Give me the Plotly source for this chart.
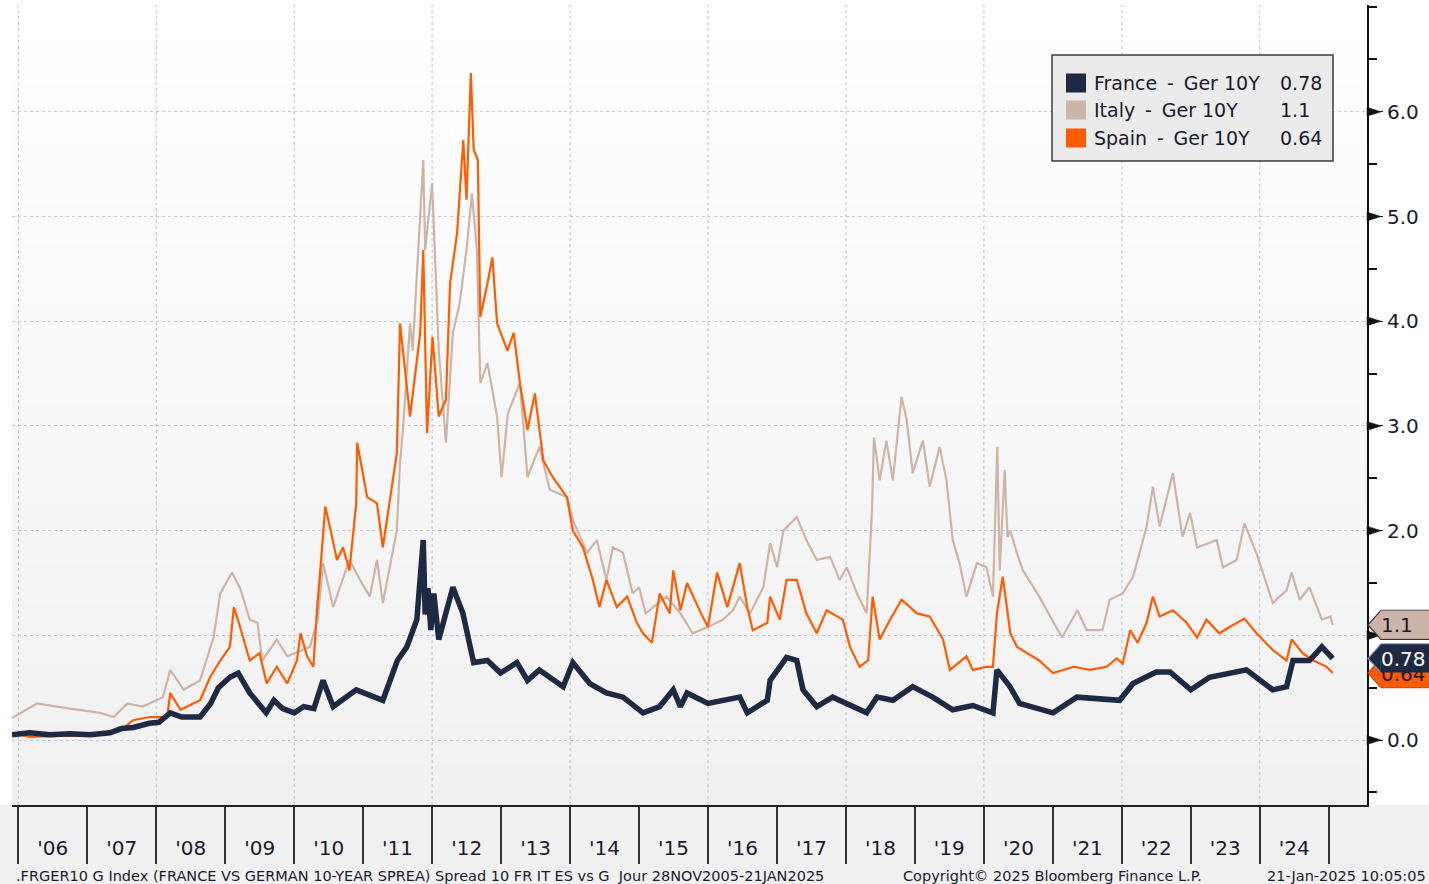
import plotly.graph_objects as go

# ---------------- data ----------------
france_dates = ["2005-11-28","2006-03-01","2006-06-15","2006-10-01","2007-01-15","2007-05-01","2007-07-01","2007-09-01",
    "2007-11-25","2008-01-15","2008-03-15","2008-05-15","2008-08-20","2008-10-15","2008-11-25","2009-01-25","2009-03-10",
    "2009-05-10","2009-08-05","2009-09-15","2009-11-01","2010-01-01","2010-02-20","2010-04-15","2010-06-02","2010-07-26",
    "2010-11-25","2011-04-15","2011-07-01","2011-08-20","2011-10-12","2011-11-15","2011-11-25","2011-12-10","2011-12-25",
    "2012-01-10","2012-02-05","2012-04-20","2012-06-12","2012-08-08","2012-10-20","2012-12-28","2013-03-25","2013-05-20",
    "2013-07-22","2013-11-25","2014-01-15","2014-04-15","2014-07-12","2014-10-08","2015-01-22","2015-04-20","2015-07-01",
    "2015-08-08","2015-09-12","2016-01-01","2016-06-17","2016-07-27","2016-11-10","2016-11-25","2017-02-20","2017-04-15",
    "2017-05-18","2017-07-30","2017-10-22","2018-04-20","2018-06-14","2018-09-06","2018-12-20","2019-04-05","2019-07-20",
    "2019-11-03","2020-02-18","2020-03-10","2020-05-18","2020-07-08","2021-01-01","2021-05-08","2021-12-20","2022-03-01",
    "2022-07-01","2022-09-13","2023-01-01","2023-04-10","2023-10-22","2024-03-10","2024-05-22","2024-06-25","2024-09-20",
    "2024-11-25","2025-01-21"]
france_vals = [0.05,0.07,0.05,0.06,0.05,0.07,0.11,0.12,
    0.16,0.17,0.26,0.22,0.22,0.35,0.50,0.60,0.64,
    0.45,0.26,0.38,0.30,0.26,0.32,0.30,0.57,0.32,
    0.48,0.38,0.76,0.89,1.15,1.91,1.20,1.45,1.05,
    1.40,0.96,1.46,1.21,0.74,0.76,0.64,0.74,0.57,
    0.67,0.51,0.74,0.54,0.45,0.41,0.26,0.32,0.48,
    0.32,0.45,0.35,0.41,0.26,0.38,0.57,0.79,0.76,
    0.48,0.32,0.41,0.26,0.41,0.38,0.51,0.41,0.29,
    0.33,0.26,0.67,0.51,0.35,0.26,0.41,0.38,0.54,
    0.65,0.65,0.48,0.60,0.67,0.48,0.51,0.76,0.76,
    0.89,0.78]

italy_dates = ["2005-11-28","2006-04-10","2006-10-01","2007-03-10","2007-05-20","2007-08-01","2007-10-22","2008-02-05",
    "2008-03-15","2008-05-25","2008-08-20","2008-10-30","2008-12-05","2009-02-05","2009-03-20","2009-05-10","2009-06-20",
    "2009-07-15","2009-09-30","2009-11-25","2010-01-01","2010-03-25","2010-05-05","2010-06-02","2010-07-26","2010-10-20",
    "2010-12-15","2011-02-05","2011-03-15","2011-04-15","2011-06-28","2011-07-15","2011-07-30","2011-09-06","2011-09-20",
    "2011-11-15","2011-11-25","2012-01-01","2012-01-22","2012-02-05","2012-03-14","2012-04-20","2012-05-26","2012-07-01",
    "2012-07-30","2012-08-25","2012-09-12","2012-10-20","2012-12-10","2013-01-03","2013-02-05","2013-04-10","2013-05-20",
    "2013-07-22","2013-09-15","2013-12-15","2014-01-15","2014-04-01","2014-05-22","2014-07-12","2014-08-15","2014-10-08",
    "2014-11-28","2015-01-01","2015-02-05","2015-05-26","2015-08-08","2015-10-12","2016-01-01","2016-03-20","2016-05-12",
    "2016-06-17","2016-08-10","2016-10-20","2016-11-25","2017-01-01","2017-02-03","2017-04-15","2017-06-05","2017-07-30",
    "2017-10-08","2017-11-28","2018-01-05","2018-02-28","2018-04-20","2018-05-18","2018-05-29","2018-06-28","2018-08-03",
    "2018-09-06","2018-10-22","2018-11-18","2018-12-20","2019-02-12","2019-03-20","2019-05-12","2019-06-17","2019-07-20",
    "2019-08-25","2019-10-01","2019-11-25","2020-01-15","2020-02-18","2020-03-12","2020-03-25","2020-04-20","2020-05-05",
    "2020-05-20","2020-06-25","2020-07-26","2020-10-20","2021-01-15","2021-02-18","2021-05-10","2021-06-28","2021-09-20",
    "2021-10-28","2022-01-05","2022-03-01","2022-05-12","2022-06-14","2022-07-20","2022-09-28","2022-11-18","2022-12-28",
    "2023-02-03","2023-05-18","2023-06-20","2023-09-01","2023-10-12","2023-12-15","2024-03-10","2024-05-22","2024-06-18",
    "2024-07-30","2024-09-20","2024-11-25","2025-01-10","2025-01-21"]
italy_vals = [0.21,0.35,0.30,0.26,0.22,0.35,0.32,0.41,
    0.67,0.48,0.57,0.98,1.40,1.60,1.45,1.15,1.12,
    0.76,0.96,0.80,0.83,0.89,1.15,1.69,1.27,1.72,
    1.53,1.37,1.72,1.31,2.00,2.65,2.96,3.98,3.72,
    5.54,4.68,5.32,4.36,3.72,2.84,3.89,4.17,4.68,
    5.22,4.68,3.41,3.60,3.09,2.51,3.12,3.41,2.51,
    2.80,2.39,2.32,2.10,1.79,1.91,1.53,1.84,1.79,
    1.40,1.46,1.21,1.37,1.21,1.02,1.08,1.15,1.24,
    1.37,1.21,1.46,1.88,1.65,2.00,2.13,1.91,1.72,
    1.75,1.53,1.65,1.40,1.21,2.17,2.89,2.48,2.86,
    2.48,3.28,3.06,2.55,2.86,2.42,2.80,2.48,1.91,
    1.69,1.37,1.69,1.65,1.37,2.80,1.62,2.58,1.94,
    2.00,1.78,1.62,1.37,1.08,0.98,1.24,1.05,1.05,
    1.34,1.40,1.56,2.04,2.42,2.04,2.55,1.94,2.17,
    1.84,1.91,1.65,1.72,2.07,1.78,1.31,1.43,1.60,
    1.34,1.46,1.15,1.18,1.10]

spain_dates = ["2005-11-28","2006-03-01","2006-08-01","2007-01-15","2007-07-01","2007-09-01","2007-11-28","2008-02-28",
    "2008-03-15","2008-05-08","2008-08-20","2008-10-12","2008-12-05","2009-01-25","2009-02-15","2009-03-20","2009-05-10",
    "2009-07-01","2009-08-08","2009-09-30","2009-11-25","2010-01-15","2010-02-03","2010-03-10","2010-04-12","2010-05-01",
    "2010-05-20","2010-06-14","2010-07-08","2010-08-15","2010-09-16","2010-10-20","2010-11-25","2010-11-30","2011-01-22",
    "2011-03-15","2011-04-15","2011-05-22","2011-06-28","2011-07-15","2011-09-06","2011-10-30","2011-11-15","2011-12-05",
    "2012-01-03","2012-02-05","2012-03-14","2012-04-05","2012-05-12","2012-06-14","2012-07-01","2012-07-24","2012-08-08",
    "2012-08-30","2012-09-12","2012-10-20","2012-11-15","2012-12-10","2013-02-03","2013-03-08","2013-04-10","2013-05-20",
    "2013-06-28","2013-08-12","2013-10-01","2013-12-15","2014-01-15","2014-03-10","2014-05-01","2014-06-05","2014-07-12",
    "2014-09-05","2014-10-30","2014-12-20","2015-01-22","2015-03-10","2015-04-20","2015-06-12","2015-07-01","2015-08-08",
    "2015-09-12","2015-11-25","2016-01-01","2016-02-18","2016-04-12","2016-06-17","2016-07-27","2016-08-25","2016-11-10",
    "2016-11-25","2017-01-15","2017-02-20","2017-04-15","2017-06-05","2017-07-30","2017-09-20","2017-12-15","2018-01-22",
    "2018-03-14","2018-04-28","2018-05-22","2018-06-28","2018-08-22","2018-10-22","2019-01-12","2019-03-20","2019-05-30",
    "2019-07-05","2019-10-01","2019-11-03","2020-01-15","2020-02-18","2020-03-10","2020-04-10","2020-05-20","2020-06-25",
    "2020-10-20","2021-01-01","2021-04-20","2021-07-15","2021-10-12","2021-12-05","2022-01-05","2022-02-14","2022-03-25",
    "2022-05-12","2022-06-14","2022-07-20","2022-09-28","2022-12-10","2023-02-03","2023-03-25","2023-06-01","2023-07-25",
    "2023-10-12","2023-12-15","2024-03-10","2024-05-22","2024-06-18","2024-08-15","2024-10-12","2024-12-20","2025-01-21"]
spain_vals = [0.07,0.03,0.04,0.04,0.10,0.19,0.22,0.22,
    0.45,0.29,0.38,0.60,0.76,0.89,1.27,1.08,0.76,
    0.83,0.54,0.70,0.54,0.76,1.02,0.80,0.70,1.24,
    1.65,2.23,2.04,1.72,1.84,1.62,2.26,2.84,2.32,
    2.26,1.84,2.29,2.74,3.98,3.09,3.89,4.68,2.93,
    3.85,3.09,3.25,4.36,4.84,5.73,5.16,6.37,5.64,
    5.54,4.04,4.36,4.61,3.98,3.72,3.89,3.41,2.96,
    3.31,2.67,2.51,2.32,2.00,1.84,1.53,1.27,1.53,
    1.27,1.37,1.12,1.02,0.93,1.40,1.21,1.62,1.24,
    1.50,1.21,1.08,1.60,1.27,1.69,1.27,1.05,1.12,
    1.37,1.15,1.53,1.53,1.21,1.02,1.24,1.15,0.89,
    0.70,0.76,1.37,0.96,1.15,1.34,1.21,1.18,0.96,
    0.67,0.80,0.67,0.70,0.70,1.21,1.56,1.02,0.89,
    0.76,0.64,0.70,0.67,0.70,0.78,0.73,1.05,0.93,
    1.12,1.37,1.18,1.24,1.12,0.98,1.15,1.02,1.08,
    1.16,1.02,0.86,0.76,0.96,0.83,0.76,0.70,0.64]

series_names = ["France - Ger 10Y", "Italy - Ger 10Y", "Spain - Ger 10Y"]
year_labels = ["'06","'07","'08","'09","'10","'11","'12","'13","'14","'15","'16","'17","'18","'19","'20","'21","'22","'23","'24"]
years = list(range(2006, 2025))
grid_years = list(range(2006, 2025, 2))
y_ticks = [0, 1, 2, 3, 4, 5, 6]
y_ticktext = ["0.0", "", "2.0", "3.0", "4.0", "5.0", "6.0"]   # 1.0 is hidden behind the 1.1 tag
footer_left = ".FRGER10 G Index (FRANCE VS GERMAN 10-YEAR SPREA) Spread 10 FR IT ES vs G  Jour 28NOV2005-21JAN2025"
footer_mid = "Copyright\u00a9 2025 Bloomberg Finance L.P."
footer_right = "21-Jan-2025 10:05:05"

# ---------------- style ----------------
C_FR = "#1e2944"
C_IT = "#cdb4a9"
C_ES = "#ff5b00"
FONT = "DejaVu Sans"
TXT = "#1a1a2e"

W, H = 1429, 884
L, R, T, B = 12, 62, 5, 79
PW, PH = W - L - R, H - T - B
Y0, Y1 = -0.62, 7.02
UPP = (Y1 - Y0) / PH   # data units per pixel

def px_x(px):
    return (px - L) / PW

def px_y(py):
    return (H - B - py) / PH

fig = go.Figure()
fig.add_trace(go.Scatter(x=italy_dates, y=italy_vals, mode="lines", name=series_names[1],
                         line=dict(color=C_IT, width=2.2), showlegend=False))
fig.add_trace(go.Scatter(x=spain_dates, y=spain_vals, mode="lines", name=series_names[2],
                         line=dict(color=C_ES, width=2.2), showlegend=False))
fig.add_trace(go.Scatter(x=france_dates, y=france_vals, mode="lines", name=series_names[0],
                         line=dict(color=C_FR, width=5.5), showlegend=False))

shapes = []
# bottom gray strip
shapes.append(dict(type="rect", xref="paper", yref="paper", x0=-0.02, x1=1.1, y0=-0.2, y1=0,
                   fillcolor="#f0f0f0", line=dict(width=0), layer="below"))
# vertical gradient in plot area
N = 40
for i in range(N):
    t = i / (N - 1)
    c = int(round(240 + (255 - 240) * t))
    shapes.append(dict(type="rect", xref="paper", yref="paper", x0=0, x1=1,
                       y0=i / N, y1=(i + 1) / N + 0.002,
                       fillcolor=f"rgb({c},{c},{c})", line=dict(width=0), layer="below"))
# vertical dotted grid every two years
for gy in grid_years:
    shapes.append(dict(type="line", xref="x", yref="paper", x0=f"{gy}-01-01", x1=f"{gy}-01-01", y0=0, y1=1,
                       line=dict(color="#c3c8d6", width=1.2, dash="3px,3px"), layer="below"))
# triangular major tick marks on the right axis
for v in y_ticks:
    path = f"M {px_x(1367)},{v + 4.5 * UPP} L {px_x(1381)},{v} L {px_x(1367)},{v - 4.5 * UPP} Z"
    shapes.append(dict(type="path", xref="paper", yref="y", path=path, fillcolor="#111111",
                       line=dict(color="#111111", width=0.5), layer="above"))

# legend box
shapes.append(dict(type="rect", xref="paper", yref="paper", x0=px_x(1052), x1=px_x(1333),
                   y0=px_y(161), y1=px_y(55), fillcolor="#ebebeb", line=dict(color="#3a3a3a", width=1.5)))
legend_rows = [83, 110, 138]
legend_colors = [C_FR, C_IT, C_ES]
last_vals = [france_vals[-1], italy_vals[-1], spain_vals[-1]]
annotations = []
for ry, col, name, v in zip(legend_rows, legend_colors, series_names, last_vals):
    shapes.append(dict(type="rect", xref="paper", yref="paper", x0=px_x(1066), x1=px_x(1086),
                       y0=px_y(ry + 9.5), y1=px_y(ry - 9.5), fillcolor=col, line=dict(width=0)))
    annotations.append(dict(xref="paper", yref="paper", x=px_x(1092), y=px_y(ry), xanchor="left",
                            yanchor="middle", text=name.replace(" - ", " \u2009-\u2009 "), showarrow=False,
                            font=dict(family=FONT, size=19, color=TXT)))
    annotations.append(dict(xref="paper", yref="paper", x=px_x(1278), y=px_y(ry), xanchor="left",
                            yanchor="middle", text=f"{v:g}", showarrow=False,
                            font=dict(family=FONT, size=19, color=TXT)))

# value tags at right (order: Spain, Italy, France on top)
tag_specs = [(spain_vals[-1], C_ES, "#b84000", TXT),
             (italy_vals[-1], C_IT, "#333333", TXT),
             (france_vals[-1], C_FR, "#8a93a8", "#ffffff")]
hh = 14.5 * UPP
for v, fill, border, tcol in tag_specs:
    xt, xs, xe = px_x(1368), px_x(1381), px_x(1440)
    path = f"M {xt},{v} L {xs},{v + hh} L {xe},{v + hh} L {xe},{v - hh} L {xs},{v - hh} Z"
    shapes.append(dict(type="path", xref="paper", yref="y", path=path, fillcolor=fill,
                       line=dict(color=border, width=1.2), layer="above"))
    annotations.append(dict(xref="paper", yref="y", x=px_x(1380), y=v, xanchor="left", yanchor="middle",
                            text=f"{v:g}", showarrow=False, width=52, height=27, align="left",
                            bgcolor=fill, borderpad=0, font=dict(family=FONT, size=20, color=tcol)))

# footer
FS = 14.5
annotations.append(dict(xref="paper", yref="paper", x=px_x(14), y=px_y(876), xanchor="left", yanchor="middle",
                        text=footer_left, showarrow=False, font=dict(family=FONT, size=FS, color=TXT)))
annotations.append(dict(xref="paper", yref="paper", x=px_x(901), y=px_y(876), xanchor="left", yanchor="middle",
                        text=footer_mid, showarrow=False, font=dict(family=FONT, size=FS, color=TXT)))
annotations.append(dict(xref="paper", yref="paper", x=px_x(1428), y=px_y(876), xanchor="right", yanchor="middle",
                        text=footer_right, showarrow=False, font=dict(family=FONT, size=FS, color=TXT)))

fig.update_layout(
    width=W, height=H,
    margin=dict(l=L, r=R, t=T, b=B, pad=0),
    paper_bgcolor="#ffffff", plot_bgcolor="#ffffff",
    showlegend=False,
    shapes=shapes, annotations=annotations,
    xaxis=dict(
        type="date", range=["2005-11-28", "2025-07-22"],
        tickmode="array", tickvals=[f"{y}-07-02" for y in years], ticktext=year_labels,
        ticks="outside", ticklen=24, tickcolor="rgba(0,0,0,0)",
        tickfont=dict(family=FONT, size=20, color=TXT),
        showgrid=False, zeroline=False,
        showline=True, linecolor="#222222", linewidth=2,
        minor=dict(tickmode="array", tickvals=[f"{y}-01-01" for y in years + [2025]],
                   ticks="outside", ticklen=57, tickwidth=2, tickcolor="#333333", showgrid=False),
    ),
    yaxis=dict(
        side="right", range=[Y0, Y1],
        tickmode="array", tickvals=y_ticks, ticktext=y_ticktext,
        ticks="outside", ticklen=14, tickwidth=1, tickcolor="#111111",
        tickfont=dict(family=FONT, size=20, color=TXT),
        showgrid=True, gridcolor="#c3c8d6", gridwidth=1.2, griddash="3px,3px",
        zeroline=False, showline=True, linecolor="#111111", linewidth=2,
        minor=dict(tickmode="linear", tick0=0, dtick=0.5, ticks="outside", ticklen=8,
                   tickwidth=1.5, tickcolor="#111111", showgrid=False),
    ),
)

fig.write_html("out.html", config={"displayModeBar": False},
               post_script="document.body.style.margin='0px';document.body.style.overflow='hidden';")
